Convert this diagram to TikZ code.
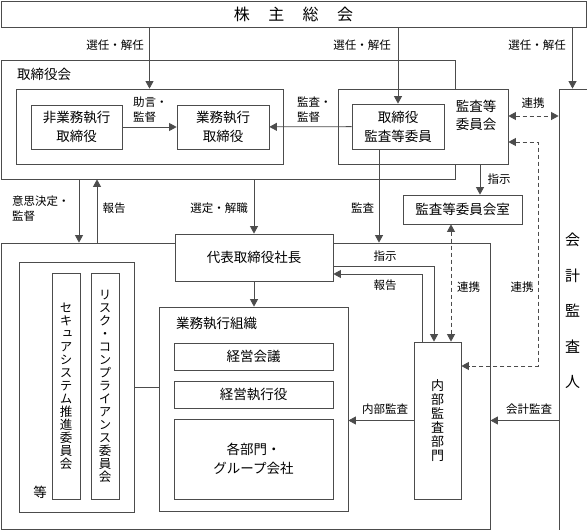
\documentclass[tikz,border=0pt]{standalone}
\usepackage{fontspec}
\setmainfont{Noto Sans CJK JP}
\newfontfamily\tatefont[RawFeature=+vert]{Noto Sans CJK JP}
\usetikzlibrary{arrows.meta}
\definecolor{linegray}{gray}{0.3}

\begin{document}
\begin{tikzpicture}[x=1pt,y=-1pt,
  wh/.style 2 args={minimum width=#1pt,minimum height=#2pt},
  box/.style={draw=linegray,fill=white,line width=0.8pt,inner sep=0pt,align=center,font=\fontsize{13.5}{19}\selectfont},
  tate/.style={font=\tatefont\fontsize{12.5}{13}\selectfont},
  lbl/.style={inner sep=0pt,align=left,font=\fontsize{11.5}{15}\selectfont},
  arr/.style={draw=linegray,line width=0.8pt,-{Triangle[length=7.5pt,width=8pt]}},
  link/.style={arr,{Triangle[length=7.5pt,width=8pt]}-{Triangle[length=7.5pt,width=8pt]},dash pattern=on 4pt off 3pt}]
\useasboundingbox (0,0) rectangle (587,530);
% outer frames first, so that the inner boxes cover their borders
\node[box,wh={585}{26},font=\fontsize{16}{16}\selectfont] (sh) at (293.5,14) {株\hspace{1.15em}主\hspace{1.15em}総\hspace{1.15em}会};
\node[box,wh={454}{119}] (brd) at (228,119.5) {};
\node[box,wh={489}{286}] (org) at (245.5,386) {};
\node[box,wh={33}{446}] (cpa) at (575.5,312) {};
\node[inner sep=0pt,align=center,font=\fontsize{15}{35.5}\selectfont] (cpatxt) at (572.5,311) {会\\計\\監\\査\\人};

\node[box,wh={267}{75}] (dirs) at (149.5,126.5) {};
\node[box,wh={91}{44}] (nonexec) at (76.5,127) {非業務執行\\取締役};
\node[box,wh={92}{44}] (exec) at (223,127) {業務執行\\取締役};
\node[box,wh={170}{75}] (acom) at (423,126.5) {};
\node[box,wh={92}{45}] (acmem) at (398,126.5) {取締役\\監査等委員};
\node[box,wh={119}{29}] (acroom) at (462.5,209.5) {監査等委員会室};

\node[box,wh={158}{47}] (pres) at (254,257.5) {代表取締役社長};
\node[box,wh={115}{250}] (cmt) at (76.5,387) {};
\node[box,wh={28}{226},tate] (sec) at (66,386) {セ\\キ\\ュ\\ア\\シ\\ス\\テ\\ム\\推\\進\\委\\員\\会};
\node[box,wh={28}{226},tate] (risk) at (105,386) {リ\\ス\\ク\\・\\コ\\ン\\プ\\ラ\\イ\\ア\\ン\\ス\\委\\員\\会};
\node[box,wh={189}{204}] (execorg) at (253.5,409) {};
\node[box,wh={159}{27}] (mtg) at (253.5,356.5) {経営会議};
\node[box,wh={159}{27}] (officer) at (253.5,394.5) {経営執行役};
\node[box,wh={159}{80}] (depts) at (253.5,459) {各部門・\\グループ会社};
\node[box,wh={47}{157},font=\fontsize{13}{14}\selectfont] (iad) at (437.5,420.5) {内\\部\\監\\査\\部\\門};
\coordinate (lk) at (538,366);

% texts beside the connectors
\node[lbl,anchor=west,font=\fontsize{13.5}{19}\selectfont] (tbrd) at (17,74) {取締役会};
\node[lbl,align=center,font=\fontsize{13.5}{18}\selectfont] (tacom) at (476,115) {監査等\\委員会};
\node[lbl,font=\fontsize{13.5}{19}\selectfont] (tetc) at (40,492) {等};
\node[lbl,anchor=west,font=\fontsize{13.5}{19}\selectfont] (texec) at (176,323) {業務執行組織};
\node[lbl] (lsel1) at (115,45) {選任・解任};
\node[lbl] (lsel2) at (362,45) {選任・解任};
\node[lbl] (lsel3) at (537,45) {選任・解任};
\node[lbl,anchor=west] (ladv) at (133,109.5) {助言・\\監督};
\node[lbl,anchor=west] (lsup) at (297,109.5) {監査・\\監督};
\node[lbl] (llink1) at (533,103) {連携};
\node[lbl] (linst1) at (499,179) {指示};
\node[lbl] (laud) at (362.5,208) {監査};
\node[lbl,anchor=west] (ldec) at (12,208.5) {意思決定・\\監督};
\node[lbl] (lrep1) at (114,208) {報告};
\node[lbl] (lappt) at (219,208) {選定・解職};
\node[lbl] (linst2) at (385,256) {指示};
\node[lbl] (lrep2) at (385,285) {報告};
\node[lbl] (llink2) at (468.5,287) {連携};
\node[lbl] (llink3) at (522,287) {連携};
\node[lbl] (liad) at (385,409) {内部監査};
\node[lbl] (lcpa) at (529,409) {会計監査};

\draw[arr] (dirs.north |- sh.south) -- (dirs.north);
\draw[arr] (acmem.north |- sh.south) -- (acmem.north);
\draw[arr] (cpatxt |- sh.south) -- (cpatxt |- cpa.north);
\draw[arr] (nonexec) -- (exec);
\draw[arr] (acmem) -- (exec);
\draw[link] ([yshift=10.5pt]acom.east) -- ([yshift=10.5pt]acom.east -| cpa.west);
\draw[link] ([yshift=-15.5pt]acom.east) -| (lk) -- (lk -| iad.east);
\draw[arr] ([xshift=17.5pt]acroom.north |- acom.south) -- ([xshift=17.5pt]acroom.north);
\draw[arr] ([xshift=-19pt]acmem.south) -- ([xshift=-19pt]acmem.south |- org.north);
\draw[arr] (79,0 |- brd.south) -- (79,0 |- org.north);
\draw[arr] (97,0 |- org.north) -- (97,0 |- brd.south);
\draw[arr] (pres.north |- brd.south) -- (pres.north);
\draw[arr] (pres.south) -- (pres.south |- execorg.north);
\draw[arr] ([yshift=-8.5pt]pres.east) -| ([xshift=-3.5pt]iad.north);
\draw[arr] ([xshift=-15.5pt]iad.north) |- ([yshift=-16.5pt]pres.east);
\draw[link] ([xshift=-11.5pt]acroom.south) -- ([xshift=-11.5pt]acroom.south |- iad.north);
\draw[arr] (iad) -- (iad -| execorg.east);
\draw[arr] (cpa.west |- iad) -- (iad -| org.east);
\draw[draw=linegray,line width=0.8pt] (cmt) -- (cmt -| execorg.west);
\end{tikzpicture}
\end{document}
